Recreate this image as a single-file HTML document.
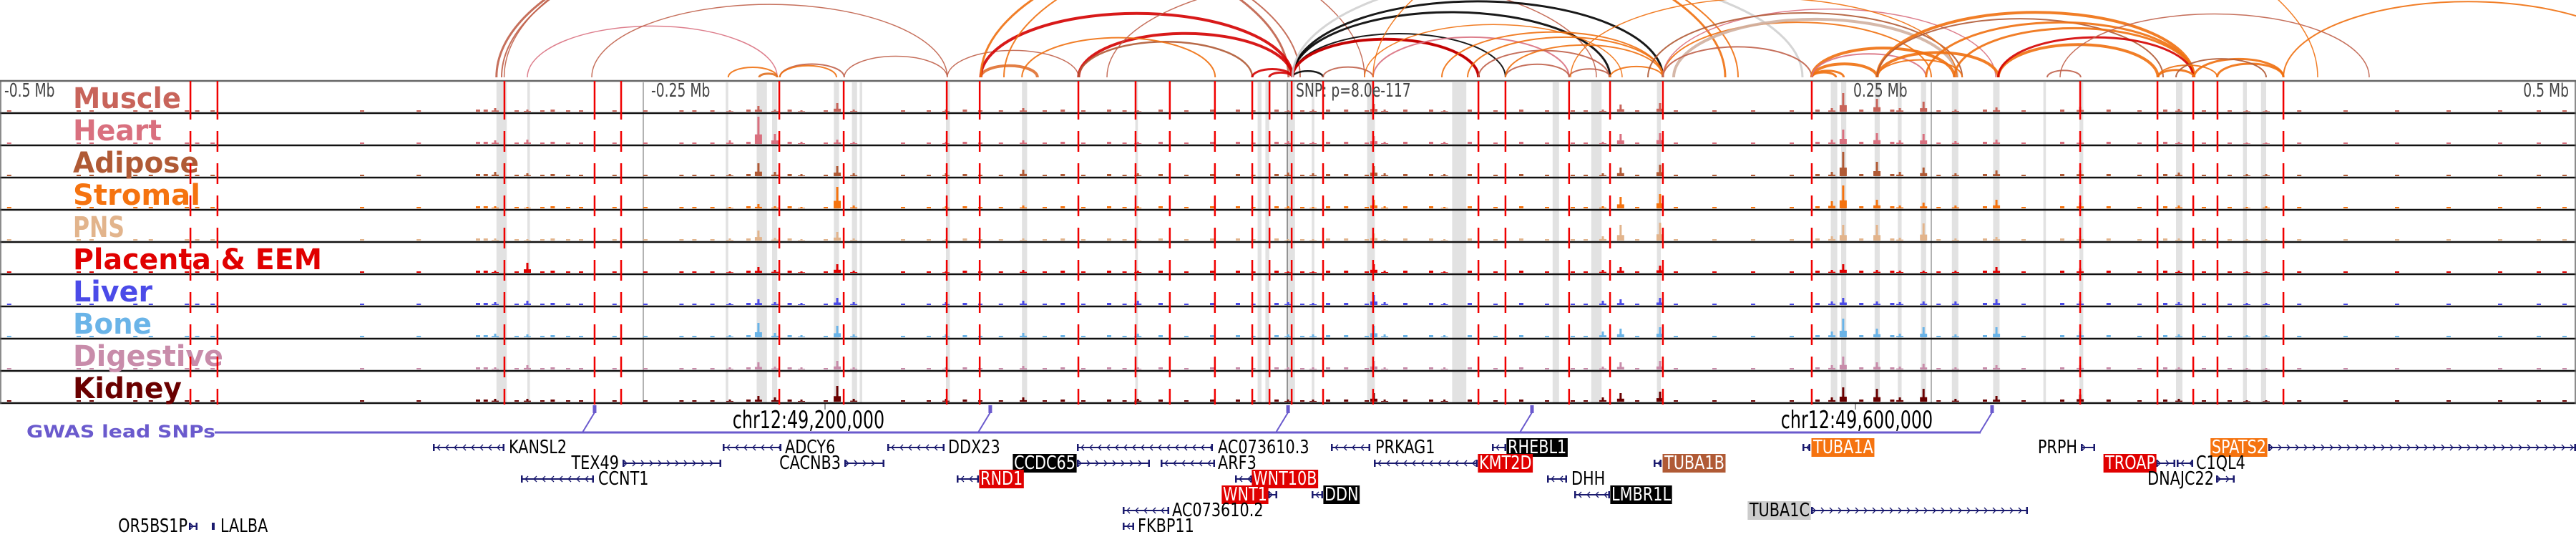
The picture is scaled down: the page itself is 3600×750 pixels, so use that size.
<!DOCTYPE html>
<html><head><meta charset="utf-8"><style>
html,body{margin:0;padding:0;background:#fff;}
svg{display:block;}
.gl{font-family:"DejaVu Sans","Liberation Sans",sans-serif;font-size:26px;}
</style></head><body>
<svg id="c" width="3600" height="750" viewBox="0 0 3600 750" xmlns="http://www.w3.org/2000/svg">
<g id="arcs"></g>
<g id="bands"></g>
<g id="tracks"></g>
<g id="red"></g>
<g id="axis"></g>
<g id="gwas"></g>
<g id="genes"></g>
</svg>
<script>
// ---- data ----
const trackNames = ["Muscle","Heart","Adipose","Stromal","PNS","Placenta & EEM","Liver","Bone","Digestive","Kidney"];
const trackColors = ["#c8645a","#d9707f","#b05a35","#f5730f","#e2b48c","#e00000","#4b4be8","#6ab4e8","#c88caa","#6a0000"];
const labelWidths = [151,124,176,178,72,348,111,110,210,152];
// peak positions in kb relative to SNP
const peakKb = [-307.5,-295,-216.4,-205.3,-198.9,-188.6,-174.7,-168.3,-132.5,-102.5,-58,0.3,10,33.6,37.8,61,122.5,129.4,144.7,211.4,215.8,228.9,237.8,247,259.4,275.3,307.8,346.1,372.5,380];
const peakMuscle   = [5,3,2,8,3,2,12,3,3,5,2,2,3,11,3,2,3,10,12,5,26,18,5,14,3,6,7,4,2,2];
const peakHeart    = [5,6,5,38,14,3,6,3,3,5,3,4,3,11,3,3,3,14,15,6,20,15,5,14,4,6,5,3,2,2];
const peakAdipose  = [6,4,3,18,6,3,14,4,4,9,4,5,4,14,4,3,4,12,16,6,34,20,6,12,4,8,8,5,3,3];
const peakStromal  = [3,2,2,6,3,2,30,4,3,4,3,3,2,12,3,2,3,16,20,10,32,12,4,8,4,12,8,4,2,3];
const peakPNS      = [3,2,3,14,4,2,12,3,2,3,2,2,2,10,2,2,6,22,25,6,22,22,4,24,3,5,6,3,2,2];
const peakPlacenta = [3,14,2,8,4,2,12,3,2,4,3,2,2,12,3,2,4,8,10,4,12,4,3,3,3,8,6,3,2,2];
const peakLiver    = [4,6,3,8,4,3,10,4,4,6,6,4,3,14,4,3,6,8,10,5,10,5,4,5,5,8,6,4,3,3];
const peakBone     = [5,4,3,20,6,3,16,4,4,6,5,4,4,16,4,3,8,12,14,8,26,12,5,14,4,14,8,4,3,3];
const peakDigestive= [3,6,3,10,4,3,12,3,3,5,3,3,3,12,3,3,4,10,12,6,18,10,4,8,3,6,6,3,2,2];
const peakKidney   = [4,4,3,8,6,3,22,4,4,6,4,3,3,12,3,3,6,12,14,6,20,18,6,18,4,8,10,4,2,2];
const peakSeries = [peakMuscle,peakHeart,peakAdipose,peakStromal,peakPNS,peakPlacenta,peakLiver,peakBone,peakDigestive,peakKidney];
// low background bins (kb) and heights
const lowKb = [-497,-470,-465,-448,-442,-428,-424,-418,-360,-338,-315,-312,-300,-290,-286,-280,-275,-262,-250,-236,-231,-224,-210,-194,-180,-150,-140,-126,-120,-112,-95,-88,-80,-70,-64,-50,-40,-30,-20,-14,-5,5,15,22,30,45,55,70,80,90,100,110,115,135,150,165,180,195,205,222,234,252,270,285,300,318,330,340,355,365,392,410,430,450,470,485,495];
const lowH  = [2,2,2,2,2,2,2,2,2,2,3,3,2,2,3,2,2,2,2,2,2,2,3,3,2,2,2,3,2,2,2,3,2,3,2,3,2,3,3,2,3,2,3,3,2,3,3,3,2,3,2,2,2,2,2,2,2,2,3,3,3,2,3,2,3,3,2,3,2,2,2,2,2,2,2,2,2];
const redKb = [-425.8,-415.3,-303.9,-268.9,-258.6,-197.2,-172.2,-132.2,-119.4,-81.1,-58.9,-45.6,-28.1,-13.6,-6.9,1.7,13.9,33.3,74.2,84.7,109.4,125.3,145.8,203.6,307.8,337.8,351.7,361.1,386.7];
const bandKb = [[-307,-303],[-295,-294],[-218,-217],[-206,-202],[-200,-198],[-176,-174],[-169,-167],[-166,-165],[-132.5,-131],[-103,-101],[-59,-58],[-11.5,-10],[-8.5,-7],[0,3],[9.5,10.5],[31,34],[64,69.5],[103,105.5],[118,122],[143.5,145],[211,213.5],[215,217],[228,230],[237,238.5],[246,248],[258,260.5],[274,276.5],[293.5,294.5],[307.5,309],[345,347.5],[371,372.5],[378,380]];
const arcList = [
 [-307,0.5,"#c0604a",3],[-305,5,"#c0604a",2],[-304,30,"#c0604a",1.5],[-295,-198,"#d9707f",1.5],
 [-217,-198,"#f07010",2],[-205,-198,"#e07020",3],[-197,-172,"#c0604a",2],[-197,-175,"#f07010",2],[-172,-132,"#c0604a",1.5],
 [-270,-132,"#c0604a",1.5],[-132,-81,"#c0604a",1.5],[-119,-97,"#e07030",4],[-119,2,"#d40000",4],[-81,2,"#d40000",4],
 [-81,-13.6,"#b05a35",2.5],[-103,-28,"#f07010",2],[-119,170,"#f07010",3],[-110,175,"#f07010",2],[-70,120,"#c0604a",1.5],
 [-13.6,2,"#d40000",3],[-7,2,"#d40000",3],[2,13.9,"#000",2.5],[13.9,33.3,"#c0604a",2],
 [2,74.2,"#000",3],[2,145.8,"#000",3],[2,125.3,"#000",3],[2,84.7,"#000",2],[2,74.2,"#d40000",4],[2,200,"#d0d0d0",3],
 [33.3,109.4,"#d9707f",2],[30,130,"#f07010",1.5],[33.3,400,"#f07010",1.5],[70,146,"#f07010",2],[74.2,125,"#c0604a",2],
 [84.7,109.4,"#c0604a",2],[84.7,145.8,"#f07010",2],[109.4,125.3,"#c0604a",2],[125.3,145.8,"#f07010",2],[60,145.8,"#f07010",2],[145.8,250,"#f07010",2],
 [145.8,275,"#d9707f",1.5],[140,262,"#b05a35",2],[150,260,"#d0b0a0",4],[145.8,203.6,"#c0604a",2],[110,260,"#f07010",1.5],
 [203.6,213,"#f07010",3],[203.6,216,"#f07010",3],[203.6,229,"#f07010",4],[203.6,259,"#f07010",4],[203.6,248,"#d9707f",2],
 [229,276,"#f07010",4],[229,262,"#f07010",2],[229,352,"#f07010",4],[229,340,"#b05a35",2],[248,352,"#f07010",3],[259,352,"#f07010",3],
 [276,338,"#f07010",4],[276,351.7,"#d40000",3],[295,308,"#c0604a",2],[338,352,"#f07010",3],[338,361,"#f07010",2],[352,386.7,"#f07010",3],
 [361,386.7,"#f07010",3],[345,380,"#b05a35",2],[386.7,530,"#f07010",2],[300,420,"#c0604a",1.5]
];
const gwasKb = [-268.9,-115.3,0.3,95,273.6];
const genes = [
 // [name,row,lineStart,lineEnd,labelX,labelSide,bg,dir]
 ["KANSL2",0,605,705,711,"r",null,-1],["ADCY6",0,1010,1092,1097,"r",null,-1],["DDX23",0,1240,1320,1325,"r",null,-1],
 ["AC073610.3",0,1505,1695,1702,"r",null,-1],["PRKAG1",0,1860,1915,1922,"r",null,-1],["RHEBL1",0,2085,2105,2107,"r","#000",-1],
 ["TUBA1A",0,2519,2530,2534,"r","#f5730f",-1],["PRPH",0,2908,2928,2903,"l",null,1],["SPATS2",0,3170,3600,3167,"l","#f5730f",1],
 ["TEX49",1,870,1008,865,"l",null,1],["CACNB3",1,1180,1236,1175,"l",null,1],["CCDC65",1,1505,1607,1503,"l","#000",1],
 ["ARF3",1,1622,1698,1702,"r",null,-1],["KMT2D",1,1920,2065,2067,"r","#e00000",-1],["TUBA1B",1,2311,2322,2326,"r","#b05a35",-1],
 ["TROAP",1,3013,3040,3012,"l","#e00000",1],["C1QL4",1,3042,3065,3069,"r",null,-1],
 ["CCNT1",2,728,830,836,"r",null,-1],["RND1",2,1337,1368,1370,"r","#e00000",-1],["WNT10B",2,1726,1750,1751,"r","#e00000",-1],
 ["DHH",2,2162,2190,2196,"r",null,-1],["DNAJC22",2,3097,3123,3094,"l",null,1],
 ["WNT1",3,1772,1785,1771,"l","#e00000",1],["DDN",3,1833,1849,1851,"r","#000",-1],["LMBR1L",3,2200,2250,2252,"r","#000",-1],
 ["AC073610.2",4,1569,1634,1638,"r",null,-1],["TUBA1C",4,2531,2834,2529,"l","#ccc",1],
 ["FKBP11",5,1569,1585,1590,"r",null,-1],["OR5BS1P",5,264,276,262,"l",null,1],["LALBA",5,296,300,308,"r",null,-1]
];
// ---- scales ----
const NS="http://www.w3.org/2000/svg";
function xKb(kb){return 1799 + kb*3.6;}
const trackTop = 113, trackH = 45, arcBase = 108;
function yTrack(i){return trackTop + i*trackH;}
function mk(tag,attrs,parent){const e=document.createElementNS(NS,tag);for(const k in attrs)e.setAttribute(k,attrs[k]);parent.appendChild(e);return e;}
const G=id=>document.getElementById(id);

arcList.forEach(a=>{
  const x1=xKb(a[0]),x2=xKb(a[1]);const rx=(x2-x1)/2,ry=(x2-x1)*0.205;
  const p=mk("path",{d:`M${x1},${arcBase} A${rx},${ry} 0 0 1 ${x2},${arcBase}`,fill:"none",stroke:a[2],"stroke-width":a[3],opacity:0.9},G("arcs"));
  
  
});
bandKb.forEach(b=>{
  const r=mk("rect",{x:xKb(b[0]),y:115,width:Math.max(2,xKb(b[1])-xKb(b[0])),height:448,fill:"#e2e2e2"},G("bands"));
  
  
});
[-250,250].forEach(k=>{mk("line",{x1:xKb(k),y1:115,x2:xKb(k),y2:563,stroke:"#999","stroke-width":1.5},G("bands"));});
mk("line",{x1:xKb(0),y1:115,x2:xKb(0),y2:563,stroke:"#777","stroke-width":1.5},G("bands"));

const TG=G("tracks");
trackNames.forEach((nm,i)=>{
  const top=yTrack(i),bot=top+trackH-2;
  const g=mk("g",{},TG);
  
  
  const col=trackColors[i];
  lowKb.forEach((k,j)=>{mk("rect",{x:xKb(k),y:bot-lowH[j],width:6,height:lowH[j],fill:col},g);});
  peakKb.forEach((k,j)=>{const h=peakSeries[i][j];const x=xKb(k);
    const b=mk("rect",{x:x-1.5,y:bot-h,width:3,height:h,fill:col},g);
    
    
    mk("rect",{x:x-5,y:bot-h*0.35,width:10,height:h*0.35,fill:col},g);
  });
  mk("line",{x1:0,y1:top+trackH,x2:3600,y2:top+trackH,stroke:"#111","stroke-width":2.5},TG);
  const t=mk("text",{x:102,y:top+38,fill:col,"font-family":"DejaVu Sans, Liberation Sans, sans-serif","font-weight":"bold","font-size":"40",textLength:labelWidths[i],lengthAdjust:"spacingAndGlyphs"},TG);
  t.textContent=nm;
  
  
});
mk("line",{x1:0,y1:113,x2:3600,y2:113,stroke:"#666","stroke-width":2.5},TG);
mk("line",{x1:1,y1:113,x2:1,y2:564,stroke:"#666","stroke-width":1.5},TG);
mk("line",{x1:3599,y1:113,x2:3599,y2:564,stroke:"#666","stroke-width":1.5},TG);

redKb.forEach(k=>{const x=xKb(k);
  const g=mk("g",{},G("red"));
  
  
  mk("line",{x1:x,y1:113,x2:x,y2:167,stroke:"#f00000","stroke-width":2.5},g);
  for(let i=1;i<10;i++){const t=yTrack(i);mk("line",{x1:x,y1:t+25,x2:x,y2:Math.min(t+54,565),stroke:"#f00000","stroke-width":2.5},g);}
});

// condensed text helper
function ctext(parent,str,x,y,size,sx,anchor,fill){
  const g=mk("g",{transform:`translate(${x},${y}) scale(${sx},1)`},parent);
  const t=mk("text",{x:0,y:0,"font-family":"DejaVu Sans, Liberation Sans, sans-serif","font-size":size,"text-anchor":anchor,fill:fill},g);
  t.textContent=str;
  return [g,t];
}

const AX=G("axis");
[["-0.5 Mb",6,"start"],["-0.25 Mb",910,"start"],["SNP: p=8.0e-117",1811,"start"],["0.25 Mb",2590,"start"],["0.5 Mb",3590,"end"]].forEach(a=>{
  const [g,t]=ctext(AX,a[0],a[1],135,26,0.72,a[2],"#444");
  
  
});

const GW=G("gwas");
mk("line",{x1:300,y1:604,x2:2768,y2:604,stroke:"#6a5acd","stroke-width":3},GW);
const gt=mk("text",{x:37,y:611,fill:"#6a5acd","font-family":"DejaVu Sans, sans-serif","font-weight":"bold","font-size":"24",textLength:264,lengthAdjust:"spacingAndGlyphs"},GW);
gt.textContent="GWAS lead SNPs";


gwasKb.forEach(k=>{const x=xKb(k);
  const m=mk("rect",{x:x-2.5,y:566,width:5,height:11,fill:"#6a5acd"},GW);
  
  
  mk("line",{x1:x,y1:576,x2:x-17,y2:604,stroke:"#6a5acd","stroke-width":2},GW);
});
[["chr12:49,200,000",1130,1153],["chr12:49,600,000",2595,2593]].forEach(c=>{
  mk("line",{x1:c[2],y1:564,x2:c[2],y2:572,stroke:"#333","stroke-width":1},GW);
  const [g,t]=ctext(GW,c[0],c[1],598,34,0.7,"middle","#000");
  
  
});

const GE=G("genes");
const rowY=[633,655,677,699,721,743];
genes.forEach(gn=>{
  const [nm,row,ls,le,lx,side,bg,dir]=gn;const y=rowY[row];const cy=y-8;
  const grp=mk("g",{},GE);
  
  
  mk("line",{x1:ls,y1:cy,x2:le,y2:cy,stroke:"#1a1a6e","stroke-width":2},grp);
  for(let x=ls+6;x<le-3;x+=12){
    mk("path",{d:dir<0?`M${x+4},${cy-4} L${x},${cy} L${x+4},${cy+4}`:`M${x-4},${cy-4} L${x},${cy} L${x-4},${cy+4}`,fill:"none",stroke:"#1a1a6e","stroke-width":1.3},grp);
  }
  mk("rect",{x:ls,y:cy-5,width:2.5,height:10,fill:"#1a1a6e"},grp);
  mk("rect",{x:le-2.5,y:cy-5,width:2.5,height:10,fill:"#1a1a6e"},grp);
  const [tg,t]=ctext(grp,nm,lx,y,26,0.8,side==="r"?"start":"end",bg&&bg!=="#ccc"?"#fff":"#000");
  if(bg){const bb=t.getBBox();const r=document.createElementNS(NS,"rect");
    r.setAttribute("x",bb.x-2);r.setAttribute("y",-21);r.setAttribute("width",bb.width+4);r.setAttribute("height",26);r.setAttribute("fill",bg);
    tg.insertBefore(r,t);}
});
</script>
</body></html>
